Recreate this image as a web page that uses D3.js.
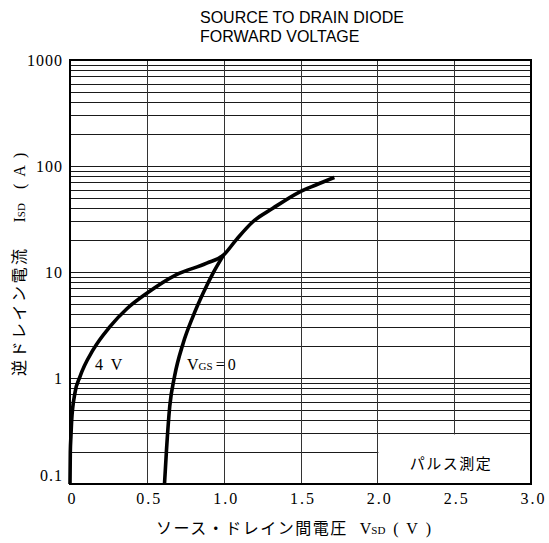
<!DOCTYPE html>
<html><head><meta charset="utf-8">
<script src="https://cdn.jsdelivr.net/npm/d3@7"></script>
<style>
body{margin:0;background:#fff;}
svg{display:block;}
</style></head>
<body>
<svg id="chart" width="549" height="543"></svg>
<script>
// ---- data ----
const titleLines = ["SOURCE TO DRAIN DIODE", "FORWARD VOLTAGE"];
const xTicks = [0, 0.5, 1.0, 1.5, 2.0, 2.5, 3.0];
const xTickLabels = ["0", "0.5", "1.0", "1.5", "2.0", "2.5", "3.0"];
const yTicks = [0.1, 1, 10, 100, 1000];
const yTickLabels = ["0.1", "1", "10", "100", "1000"];
// Vsd (V), Isd (A)
const curve4V = [[0,0.1],[0.002,0.2],[0.006,0.28],[0.011,0.40],[0.032,0.72],[0.065,1.03],[0.15,1.84],[0.26,3.05],[0.37,4.5],[0.50,6.3],[0.69,9.4],[0.89,12.1],[1.0,14.5],[1.08,20],[1.19,29.8],[1.32,39.9],[1.49,56.5],[1.60,66.2],[1.72,78]];
const curveVgs0 = [[0.615,0.1],[0.628,0.21],[0.649,0.54],[0.68,1.03],[0.736,2.12],[0.80,3.8],[0.866,6.3],[0.93,9.7],[1.0,14.5]];
const labels = {v4: "4  V", vgs: "V", vgsSub: "GS", vgsEq: "=0", note: "パルス測定"};

// ---- layout ----
const svg = d3.select("#chart");
const L = 70, R = 531, T = 60, B = 484;
const x = d3.scaleLinear().domain([0, 3]).range([L, R]);
const y = d3.scaleLog().domain([0.1, 1000]).range([B, T]);

svg.append("rect").attr("width",549).attr("height",543).attr("fill","#fff");

// grid
const g = svg.append("g");
const minor = [];
for (let e = -1; e < 3; e++) for (let k = 1; k <= 9; k++) minor.push(k * Math.pow(10, e));
minor.push(1000);
g.selectAll("line.h").data(minor).enter().append("line")
  .attr("x1", L).attr("x2", R)
  .attr("y1", d => Math.round(y(d)) + 0.5).attr("y2", d => Math.round(y(d)) + 0.5)
  .attr("stroke", "#1a1a1a").attr("stroke-width", 1);
g.selectAll("line.v").data(xTicks.slice(1, -1)).enter().append("line")
  .attr("x1", d => Math.round(x(d)) + 0.5).attr("x2", d => Math.round(x(d)) + 0.5)
  .attr("y1", T).attr("y2", B)
  .attr("stroke", "#333").attr("stroke-width", 1);

// white box for note
svg.append("rect").attr("x", x(2.0) + 1).attr("y", y(0.3) + 1)
  .attr("width", R - x(2.0) - 1).attr("height", B - y(0.3) - 1).attr("fill", "#fff");

// border
svg.append("rect").attr("x", L).attr("y", T).attr("width", R - L).attr("height", B - T)
  .attr("fill", "none").attr("stroke", "#000").attr("stroke-width", 2);

// axes (labels only)
const serif = "'Liberation Serif','DejaVu Serif',serif";
const xAxis = svg.append("g").attr("transform", `translate(0,${B})`)
  .call(d3.axisBottom(x).tickValues(xTicks).tickSize(0).tickFormat((d,i) => xTickLabels[i]));
xAxis.select(".domain").remove();
xAxis.selectAll("text").attr("font-family", serif).attr("font-size", 16)
  .attr("fill", "#000").attr("letter-spacing", 2).attr("dy", "1.05em").attr("dx", 2);

const yAxis = svg.append("g").attr("transform", `translate(${L},0)`)
  .call(d3.axisLeft(y).tickValues(yTicks).tickSize(0).tickFormat((d,i) => yTickLabels[i]));
yAxis.select(".domain").remove();
yAxis.selectAll("text").attr("font-family", serif).attr("font-size", 16)
  .attr("fill", "#000").attr("dx", -4).attr("letter-spacing", 1)
  .attr("dy", d => d === 0.1 ? "-0.25em" : "0.32em");

// curves
const line = d3.line().x(d => x(d[0])).y(d => y(d[1])).curve(d3.curveMonotoneX);
[curve4V, curveVgs0].forEach(c => {
  svg.append("path").attr("d", line(c)).attr("fill", "none")
    .attr("stroke", "#000").attr("stroke-width", 3.6).attr("stroke-linecap", "butt");
});

// curve labels
svg.append("text").attr("x", 95).attr("y", 370).attr("font-family", serif).attr("font-size", 16)
  .attr("xml:space","preserve").text(labels.v4);
const tv = svg.append("text").attr("x", 187).attr("y", 370).attr("font-family", serif).attr("font-size", 16);
tv.append("tspan").text(labels.vgs);
tv.append("tspan").attr("font-size", 11).text(labels.vgsSub);
tv.append("tspan").attr("dx", 3).attr("letter-spacing", 3).text(labels.vgsEq);

svg.append("text").attr("x", 451).attr("y", 469).attr("text-anchor", "middle")
  .attr("font-family", "'Noto Sans CJK JP',sans-serif").attr("font-size", 15)
  .attr("letter-spacing", 1.5).text(labels.note);

// title
const tt = svg.append("text").attr("font-family", "'Liberation Sans','DejaVu Sans',sans-serif")
  .attr("font-size", 16).attr("fill", "#000");
titleLines.forEach((s, i) => tt.append("tspan").attr("x", 200).attr("y", 23 + i * 19).text(s));

// x-axis title
const xt = svg.append("text").attr("x", 156).attr("y", 534).attr("font-size", 16).attr("fill","#000");
xt.append("tspan").attr("font-family", "'Noto Sans CJK JP',sans-serif").attr("letter-spacing", 1.5).text("ソース・ドレイン間電圧");
xt.append("tspan").attr("font-family", serif).attr("dx", 12).text("V");
xt.append("tspan").attr("font-family", serif).attr("font-size", 11).text("SD");
xt.append("tspan").attr("font-family", serif).attr("dx", 8).attr("xml:space","preserve").text("(  V  )");

// y-axis title
const yt = svg.append("text").attr("transform", "translate(25,376) rotate(-90)")
  .attr("font-size", 16).attr("fill","#000");
yt.append("tspan").attr("font-family", "'Noto Sans CJK JP',sans-serif").attr("letter-spacing", 2.5).text("逆ドレイン電流");
yt.append("tspan").attr("font-family", serif).attr("dx", 24).text("I");
yt.append("tspan").attr("font-family", serif).attr("font-size", 11).text("SD");
yt.append("tspan").attr("font-family", serif).attr("dx", 14).attr("xml:space","preserve").text("(  A  )");
</script>
</body></html>
